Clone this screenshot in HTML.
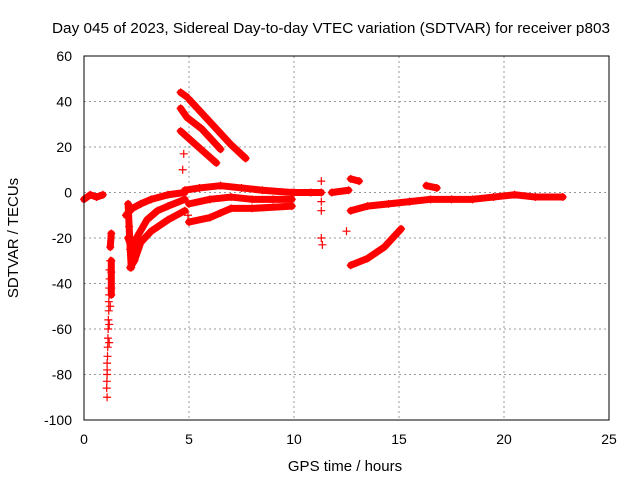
<!DOCTYPE html>
<html><head><meta charset="utf-8"><style>
body{margin:0;background:#fff}
svg{display:block;font-family:"Liberation Sans",sans-serif}
</style></head><body>
<svg id="chart" width="640" height="480">
<text x="331" y="33" font-size="15" text-anchor="middle" textLength="558" lengthAdjust="spacingAndGlyphs">Day 045 of 2023, Sidereal Day-to-day VTEC variation (SDTVAR) for receiver p803</text>
<text x="345" y="471" font-size="15" text-anchor="middle">GPS time / hours</text>
<text transform="translate(18,238) rotate(-90)" font-size="15" text-anchor="middle">SDTVAR / TECUs</text>
<g id="grid"></g><g id="marks"></g>
<rect x="84" y="56" width="525" height="364" fill="none" stroke="#000"/>
</svg>
<script>
const xTicks=[0,5,10,15,20,25];
const yTicks=[60,40,20,0,-20,-40,-60,-80,-100];
const traces=[
[[0,-3],[0.3,-1],[0.6,-2],[0.9,-1]],
[[2.0,-10],[2.3,-7],[2.7,-5],[3.2,-3],[4,-1],[4.8,0]],
[[2.1,-20],[2.3,-25],[2.5,-20],[3,-12],[3.5,-8],[4,-6],[4.8,-3]],
[[2.2,-33],[2.4,-30],[2.7,-22],[3.2,-17],[4,-12],[4.8,-8]],
[[2.1,-5],[2.15,-15],[2.2,-25],[2.25,-33]],
[[1.3,-18],[1.25,-24]],
[[1.3,-30],[1.3,-45]],
[[4.6,44],[4.9,42]],
[[5.0,41],[6,31],[7,21],[7.7,15]],
[[4.6,37],[4.9,33],[5.6,28],[6.5,19]],
[[4.6,27],[5.2,22],[6.3,13]],
[[4.8,1],[5.5,2],[6.5,3],[7.5,2],[8.5,1],[9.9,0]],
[[5,-5],[6,-3],[7,-2],[8,-3],[9,-3],[9.9,-3]],
[[5,-13],[6,-11],[6.5,-9],[7,-7],[8,-7],[9.9,-6]],
[[10,0],[10.8,0],[11.3,0]],
[[11.8,0],[12.6,1]],
[[12.7,6],[13.1,5]],
[[12.7,-8],[13.5,-6],[14.5,-5],[15.5,-4],[16.5,-3],[17.5,-3],[18.5,-3],[19.5,-2],[20.5,-1],[21.5,-2],[22.8,-2]],
[[16.3,3],[16.8,2]],
[[12.7,-32],[13.5,-29],[14.3,-24],[15.1,-16]]
];
const scatter=[[1.25,-30],[1.22,-34],[1.22,-38],[1.2,-42],[1.2,-45],[1.18,-48],[1.18,-52],[1.16,-56],[1.15,-60],[1.14,-64],[1.13,-68],[1.12,-72],[1.1,-75],[1.1,-78],[1.1,-80],[1.09,-83],[1.08,-86],[1.1,-90],[1.3,-35],[1.3,-42],[1.25,-50],[1.2,-58],[1.2,-66],
[4.75,17],[4.7,10],[4.95,-10],[11.3,5],[11.3,-20],[11.35,-23],[11.3,-4],[11.3,-8],[12.5,-17]];
const X=h=>84+h*21, Y=v=>56+(60-v)*2.275;
const NS="http://www.w3.org/2000/svg";
const grid=document.getElementById('grid'), marks=document.getElementById('marks');
function mk(t,a,p){const e=document.createElementNS(NS,t);for(const k in a)e.setAttribute(k,a[k]);p.appendChild(e);return e;}
xTicks.forEach(t=>{
 if(t>0&&t<25){const l=mk('line',{x1:X(t),x2:X(t),y1:56,y2:420,stroke:'#999','stroke-dasharray':'2,3'},grid);
 }
 const tx=mk('text',{x:X(t),y:444,'font-size':14,'text-anchor':'middle'},grid);tx.textContent=t;
 
});
yTicks.forEach(t=>{
 if(t<60&&t>-100){const l=mk('line',{x1:84,x2:609,y1:Y(t),y2:Y(t),stroke:'#999','stroke-dasharray':'2,3'},grid);
 }
 const tx=mk('text',{x:72,y:Y(t)+5,'font-size':14,'text-anchor':'end'},grid);tx.textContent=t;
 
});
function plus(h,v){const x=X(h),y=Y(v);
 const p=mk('path',{d:`M${x-4} ${y}H${x+4}M${x} ${y-4}V${y+4}`,stroke:'#f00','stroke-width':1.2},marks);
 }
traces.forEach(tr=>{
 const pl=mk('polyline',{points:tr.map(p=>X(p[0])+','+Y(p[1])).join(' '),fill:'none',stroke:'#f00','stroke-width':7,'stroke-linejoin':'round','stroke-linecap':'round'},marks);
 
 tr.forEach(p=>plus(p[0],p[1]));
});
scatter.forEach(p=>plus(p[0],p[1]));
</script>
</body></html>
